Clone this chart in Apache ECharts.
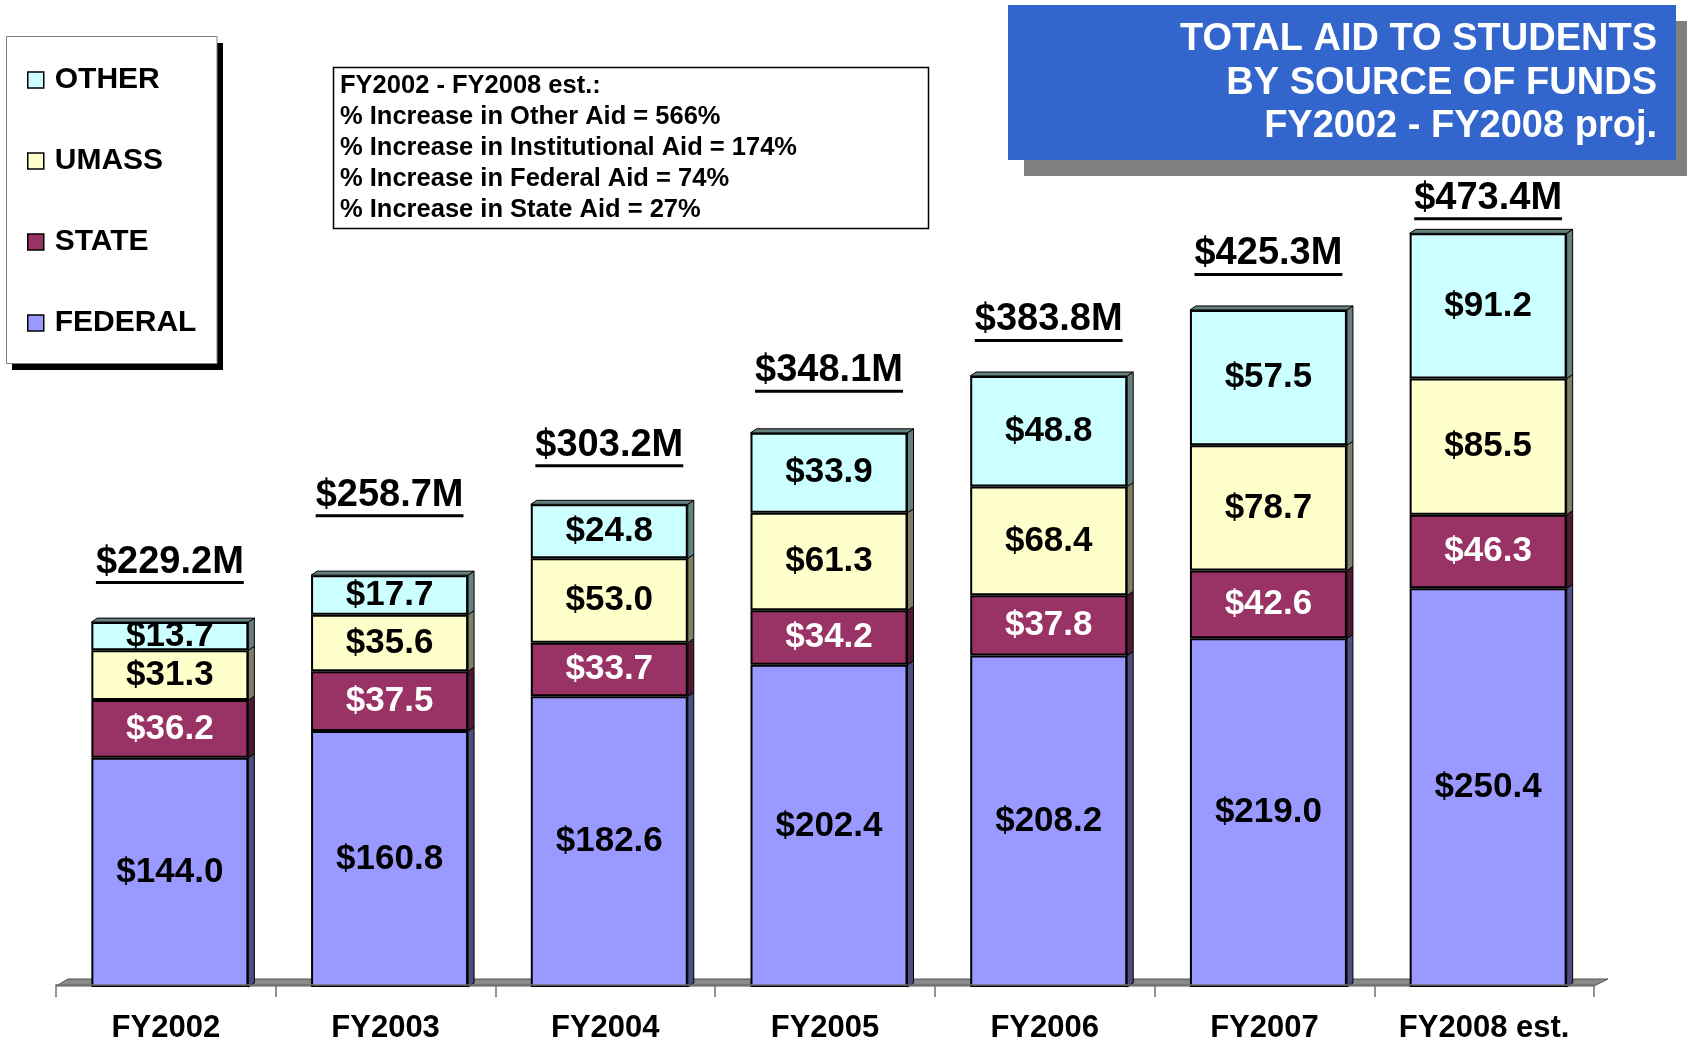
<!DOCTYPE html>
<html>
<head>
<meta charset="utf-8">
<title>Total Aid to Students by Source of Funds</title>
<script src="https://cdn.jsdelivr.net/npm/echarts@6/dist/echarts.min.js"></script>
<style>
	html, body { margin: 0; padding: 0; background: #fff; }
	#chart { width: 1687px; height: 1044px; }
</style>
</head>
<body>
<div id="chart"></div>
<script>
// data ($ millions)
const years = ["FY2002", "FY2003", "FY2004", "FY2005", "FY2006", "FY2007", "FY2008 est."];
const federalAid = [144.0, 160.8, 182.6, 202.4, 208.2, 219.0, 250.4];
const stateAid = [36.2, 37.5, 33.7, 34.2, 37.8, 42.6, 46.3];
const umassAid = [31.3, 35.6, 53.0, 61.3, 68.4, 78.7, 85.5];
// height of the "other" block as drawn; the printed labels on the slide differ
const otherAid = [17.7, 24.8, 33.9, 50.2, 69.4, 85.0, 91.2];
const otherLabels = ["$13.7", "$17.7", "$24.8", "$33.9", "$48.8", "$57.5", "$91.2"];
const totals = [229.2, 258.7, 303.2, 348.1, 383.8, 425.3, 473.4];
const titleLines = ["TOTAL AID TO STUDENTS", "BY SOURCE OF FUNDS", "FY2002 - FY2008 proj."];
const noteLines = [
	"FY2002 - FY2008 est.:",
	"% Increase in Other Aid = 566%",
	"% Increase in Institutional Aid = 174%",
	"% Increase in Federal Aid = 74%",
	"% Increase in State Aid = 27%",
];

const FONT = '"Liberation Sans", Arial, Helvetica, sans-serif';
const BAR_W = 157;
// how far each total sits above its bar (px), as on the slide
const totalLift = [60, 80, 59, 62, 56, 56, 35];

const measureCtx = document.createElement("canvas").getContext("2d");
function textWidth(text, font) {
	measureCtx.font = font;
	return measureCtx.measureText(text).width;
}

function barSeries(name, data, color, labelColor, formatter) {
	return {
		name: name,
		type: "bar",
		stack: "aid",
		xAxisIndex: 1,
		yAxisIndex: 1,
		data: data,
		barWidth: BAR_W,
		itemStyle: { color: color, borderColor: "#000", borderWidth: 2 },
		label: {
			show: true,
			position: "inside",
			color: labelColor,
			fontFamily: FONT,
			fontWeight: "bold",
			fontSize: 35,
			formatter: formatter || ((p) => "$" + p.value.toFixed(1)),
		},
		emphasis: { disabled: true },
	};
}

const layers = [federalAid, stateAid, umassAid, otherAid];
const sideColors = ["#4d4d80", "#4d1a33", "#7f7f66", "#668080"];
const stackedRows = years.map((y, i) => {
	let sum = 0;
	const row = [i];
	layers.forEach((l) => {
		sum += l[i];
		row.push(sum);
	});
	return row;
});

const chart = echarts.init(document.getElementById("chart"));

const option = {
	animation: false,
	backgroundColor: "#fff",
	// grid 0 carries the visible axis, grid 1 the bars (nudged right like the 3D original)
	grid: [
		{ left: 56, right: 93, top: 191, bottom: 57 },
		{ left: 60, right: 89, top: 191, bottom: 57 },
	],
	legend: {
		orient: "vertical",
		left: 27,
		top: 65,
		padding: 0,
		itemGap: 51,
		itemWidth: 16,
		itemHeight: 16,
		icon: "rect",
		data: ["OTHER", "UMASS", "STATE", "FEDERAL"],
		itemStyle: { borderColor: "#000", borderWidth: 1.5 },
		textStyle: {
			fontFamily: FONT,
			fontWeight: "bold",
			fontSize: 30,
			lineHeight: 30,
			color: "#000",
			padding: [0, 0, 0, 6],
		},
		selectedMode: false,
	},
	xAxis: [
		{
			type: "category",
			gridIndex: 0,
			data: years,
			offset: 4,
			z: 5,
			axisLine: { show: true, lineStyle: { color: "#707070", width: 1.5 } },
			axisTick: { show: true, interval: 0, length: 12, lineStyle: { color: "#707070", width: 1.5 } },
			axisLabel: {
				interval: 0,
				margin: 24,
				color: "#000",
				fontFamily: FONT,
				fontWeight: "bold",
				fontSize: 31,
			},
		},
		{ type: "category", gridIndex: 1, data: years, show: false },
	],
	yAxis: [
		{ type: "value", gridIndex: 0, min: 0, max: 500, show: false, splitLine: { show: false } },
		{ type: "value", gridIndex: 1, min: 0, max: 500, show: false, splitLine: { show: false } },
	],
	series: [
		{
			name: "floor",
			type: "custom",
			z: 1,
			xAxisIndex: 0,
			yAxisIndex: 0,
			data: [[0, 0]],
			encode: { x: 0, y: 1 },
			renderItem: (params, api) => {
				const cs = params.coordSys;
				const yb = api.coord([0, 0])[1];
				return {
					type: "polygon",
					shape: {
						points: [
							[cs.x, yb + 1],
							[cs.x + 12, yb - 6],
							[cs.x + cs.width + 14, yb - 6],
							[cs.x + cs.width, yb + 1],
						],
					},
					style: { fill: "#8a8a8a", stroke: "#555", lineWidth: 1 },
				};
			},
		},
		barSeries("FEDERAL", federalAid, "#9999ff", "#000"),
		barSeries("STATE", stateAid, "#993366", "#fff"),
		barSeries("UMASS", umassAid, "#ffffcc", "#000"),
		barSeries("OTHER", otherAid, "#ccffff", "#000", (p) => otherLabels[p.dataIndex]),
		{
			name: "depth",
			type: "custom",
			z: 3,
			xAxisIndex: 1,
			yAxisIndex: 1,
			data: stackedRows,
			encode: { x: 0, y: [1, 2, 3, 4] },
			renderItem: (params, api) => {
				const half = BAR_W / 2, dx = 6, dy = 4;
				const children = [];
				let prev = api.coord([api.value(0), 0]);
				for (let k = 1; k <= 4; k++) {
					const top = api.coord([api.value(0), api.value(k)]);
					const xr = top[0] + half;
					children.push({
						type: "polygon",
						shape: { points: [[xr, prev[1]], [xr + dx, prev[1] - dy], [xr + dx, top[1] - dy], [xr, top[1]]] },
						style: { fill: sideColors[k - 1], stroke: "#000", lineWidth: 1 },
					});
					prev = top;
				}
				const xl = prev[0] - half, yt = prev[1];
				children.push({
					type: "polygon",
					shape: { points: [[xl, yt], [xl + dx, yt - dy], [xl + BAR_W + dx, yt - dy], [xl + BAR_W, yt]] },
					style: { fill: sideColors[3], stroke: "#000", lineWidth: 1 },
				});
				return { type: "group", children: children };
			},
		},
		{
			name: "totals",
			type: "custom",
			z: 4,
			xAxisIndex: 1,
			yAxisIndex: 1,
			data: totals.map((t, i) => [i, t]),
			encode: { x: 0, y: 1 },
			renderItem: (params, api) => {
				const i = api.value(0);
				const p = api.coord([i, api.value(1)]);
				const text = "$" + totals[i].toFixed(1) + "M";
				const w = textWidth(text, "bold 38px " + FONT);
				const cx = p[0], cy = p[1] - totalLift[i];
				return {
					type: "group",
					children: [
						{
							type: "text",
							style: {
								text: text, x: cx, y: cy, align: "center", verticalAlign: "middle",
								fontFamily: FONT, fontWeight: "bold", fontSize: 38, fill: "#000",
							},
						},
						{ type: "rect", shape: { x: cx - w / 2, y: cy + 19, width: w, height: 3 }, style: { fill: "#000" } },
					],
				};
			},
		},
	],
	graphic: [
		// title box
		{ type: "rect", z: 0, shape: { x: 1024, y: 21, width: 670, height: 155 }, style: { fill: "#808080" } },
		{ type: "rect", z: 0, shape: { x: 1008, y: 5, width: 668, height: 155 }, style: { fill: "#3366cc" } },
		...titleLines.map((t, i) => ({
			type: "text", z: 1,
			style: {
				text: t, x: 1657, y: 40 + i * 43.5, align: "right", verticalAlign: "middle",
				fontFamily: FONT, fontWeight: "bold", fontSize: 38, fill: "#fff",
			},
		})),
		// legend box
		{ type: "rect", z: 0, shape: { x: 12, y: 43, width: 211, height: 327 }, style: { fill: "#000" } },
		{ type: "rect", z: 0, shape: { x: 6.5, y: 36.5, width: 210.5, height: 327 }, style: { fill: "#fff", stroke: "#808080", lineWidth: 1 } },
		// notes box
		{ type: "rect", z: 0, shape: { x: 333.5, y: 67.5, width: 595, height: 161 }, style: { fill: "#fff", stroke: "#000", lineWidth: 1.5 } },
		...noteLines.map((t, i) => ({
			type: "text", z: 1,
			style: {
				text: t, x: 340, y: 85.5 + i * 31, align: "left", verticalAlign: "middle",
				fontFamily: FONT, fontWeight: "bold", fontSize: 25.5, fill: "#000",
			},
		})),
	],
};

chart.setOption(option);
window.addEventListener("resize", () => chart.resize());
</script>
</body>
</html>
